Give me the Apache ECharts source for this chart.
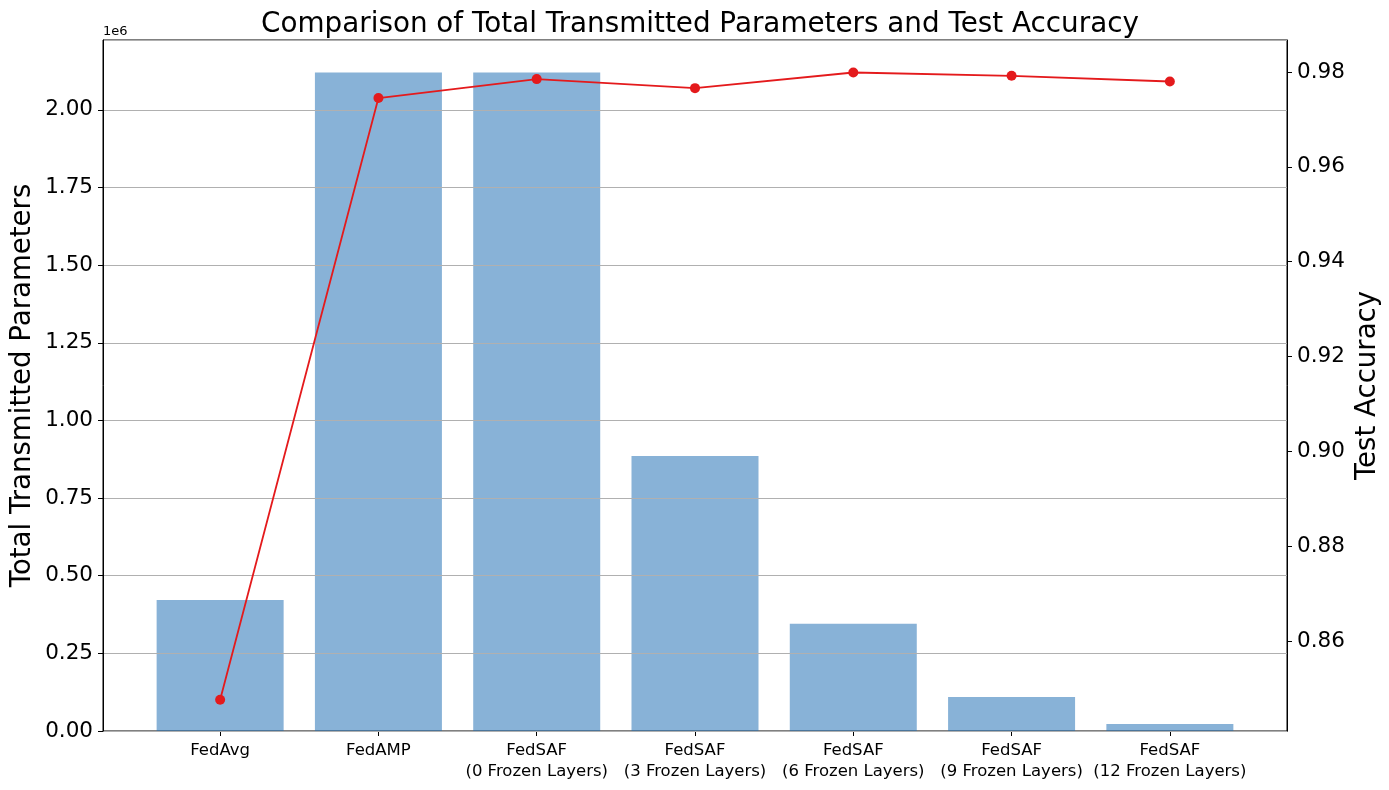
<!DOCTYPE html>
<html>
<head>
<meta charset="utf-8">
<script src="https://cdn.jsdelivr.net/npm/echarts@6/dist/echarts.min.js"></script>
<style>
  html, body { margin: 0; padding: 0; background: #fff; }
  #chart { width: 1389px; height: 790px; }
</style>
</head>
<body>
<div id="chart"></div>
<script>
const categories = [
    'FedAvg',
    'FedAMP',
    'FedSAF\n(0 Frozen Layers)',
    'FedSAF\n(3 Frozen Layers)',
    'FedSAF\n(6 Frozen Layers)',
    'FedSAF\n(9 Frozen Layers)',
    'FedSAF\n(12 Frozen Layers)'
];
const transmittedParams = [422000, 2120000, 2120000, 885700, 345600, 109500, 22500];
const testAccuracy = [0.8476, 0.9745, 0.9785, 0.9766, 0.9799, 0.9792, 0.9780];
const accuracyTicks = [0.86, 0.88, 0.90, 0.92, 0.94, 0.96, 0.98];
const categoryTicks = [0, 1, 2, 3, 4, 5, 6];

const font = 'DejaVu Sans';
const chart = echarts.init(document.getElementById('chart'));

const option = {
    animation: false,
    backgroundColor: '#fff',
    title: {
        text: 'Comparison of Total Transmitted Parameters and Test Accuracy',
        left: 695,
        textAlign: 'center',
        top: 6,
        textStyle: { fontFamily: font, fontSize: 27.8, fontWeight: 'normal', color: '#000' }
    },
    graphic: [{
        type: 'text',
        left: 103,
        top: 25,
        style: { text: '1e6', font: '13px "DejaVu Sans"', fill: '#000' }
    }],
    grid: {
        left: 103, top: 40, width: 1184, height: 691,
        containLabel: false,
        outerBoundsMode: 'none',
        show: true, borderColor: '#000', borderWidth: 1
    },
    xAxis: {
        type: 'value',
        min: -0.74,
        max: 6.74,
        axisLine: { onZero: false, lineStyle: { color: '#000' } },
        axisTick: { customValues: categoryTicks, length: 5, lineStyle: { color: '#000' } },
        axisLabel: {
            customValues: categoryTicks,
            formatter: v => categories[Math.round(v)] || '',
            fontFamily: font, fontSize: 16.5, color: '#000', lineHeight: 21, margin: 9
        },
        splitLine: { show: false }
    },
    yAxis: [{
        type: 'value',
        min: 0,
        max: 2225000,
        interval: 250000,
        z: 3,
        name: 'Total Transmitted Parameters',
        nameLocation: 'middle',
        nameGap: 66,
        nameMoveOverlap: false,
        nameTextStyle: { fontFamily: font, fontSize: 27.6, color: '#000' },
        axisLine: { show: true, onZero: false, lineStyle: { color: '#000' } },
        axisTick: { show: true, length: 5, lineStyle: { color: '#000' } },
        axisLabel: {
            showMaxLabel: false,
            formatter: v => (v / 1e6).toFixed(2),
            fontFamily: font, fontSize: 21.5, color: '#000', margin: 10
        },
        splitLine: { show: true, lineStyle: { color: '#b0b0b0', width: 1 } }
    }, {
        type: 'value',
        position: 'right',
        min: 0.84102,
        max: 0.98675,
        name: 'Test Accuracy',
        nameLocation: 'middle',
        nameGap: 67,
        nameMoveOverlap: false,
        nameTextStyle: { fontFamily: font, fontSize: 27.6, color: '#000' },
        axisLine: { show: true, onZero: false, lineStyle: { color: '#000' } },
        axisTick: { show: true, customValues: accuracyTicks, length: 5, lineStyle: { color: '#000' } },
        axisLabel: {
            customValues: accuracyTicks,
            formatter: v => v.toFixed(2),
            fontFamily: font, fontSize: 21.5, color: '#000', margin: 10
        },
        splitLine: { show: false }
    }],
    series: [{
        name: 'Total Transmitted Parameters',
        type: 'bar',
        yAxisIndex: 0,
        barWidth: 127,
        itemStyle: { color: 'rgba(30,110,180,0.53)' },
        z: 2,
        data: transmittedParams.map((v, i) => [i, v])
    }, {
        name: 'Test Accuracy',
        type: 'line',
        yAxisIndex: 1,
        z: 5,
        symbol: 'circle',
        symbolSize: 10,
        lineStyle: { color: '#e41a1c', width: 1.8 },
        itemStyle: { color: '#e41a1c' },
        data: testAccuracy.map((v, i) => [i, v])
    }]
};

chart.setOption(option);
window.addEventListener('resize', () => chart.resize());
</script>
</body>
</html>
